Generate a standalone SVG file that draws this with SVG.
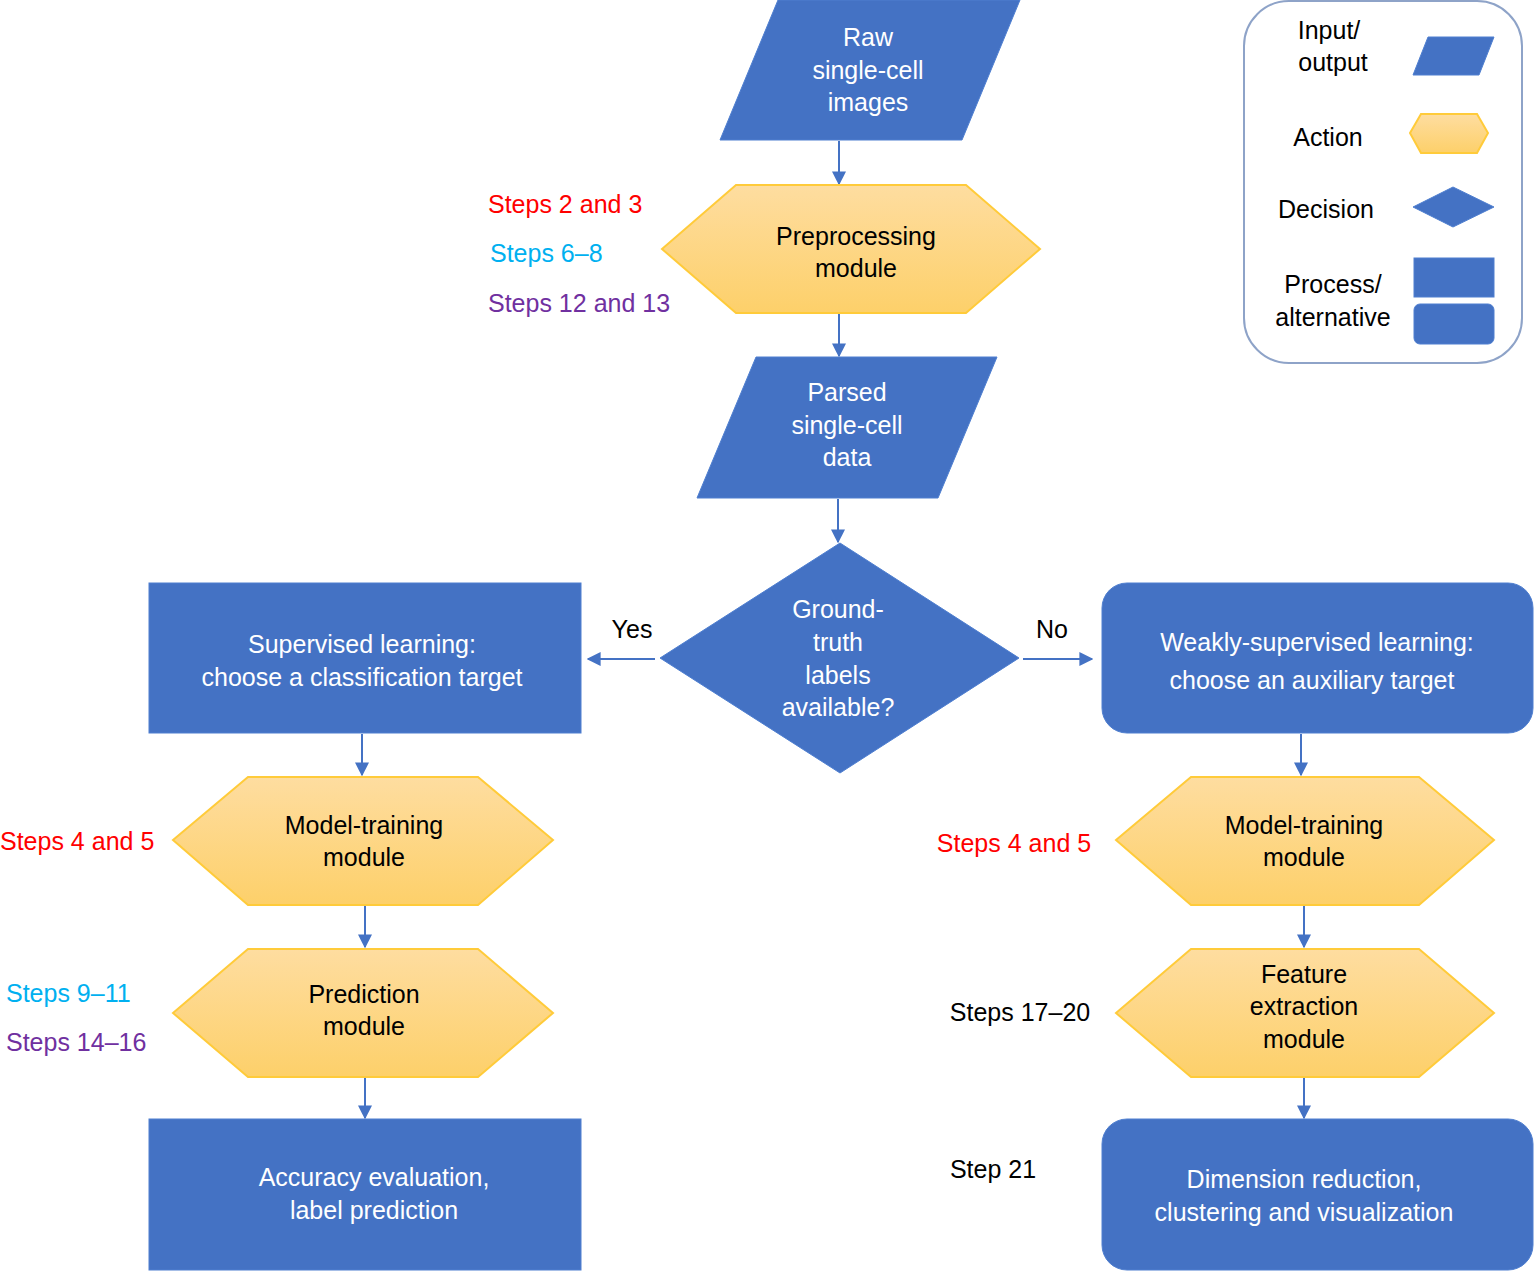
<svg xmlns="http://www.w3.org/2000/svg" width="1535" height="1272" viewBox="0 0 1535 1272">
<style>
text{font-family:"Liberation Sans",Arial,sans-serif;font-size:25px;text-anchor:middle}
.b{fill:#4472C4;stroke:#4F7FD0;stroke-width:1}
.h{fill:url(#g);stroke:#FFCB3A;stroke-width:2}
.w{fill:#fff}
.k{fill:#000}
.l{text-anchor:start}
.r{fill:#FF0000}.c{fill:#00B0F0}.p{fill:#7030A0}
.e{stroke:#4472C4;stroke-width:2;fill:none;marker-end:url(#a)}
</style>
<defs>
<linearGradient id="g" x1="0" y1="0" x2="0" y2="1"><stop offset="0" stop-color="#FEDDA0"/><stop offset="1" stop-color="#FDD06A"/></linearGradient>
<marker id="a" viewBox="0 0 10 10" refX="9" refY="5" markerWidth="7" markerHeight="7" orient="auto"><path d="M0,0L10,5L0,10z" fill="#4472C4"/></marker>
</defs>
<g id="connectors">
<path class="e" d="M839,141V184"/><path class="e" d="M839,314V356"/><path class="e" d="M838,499V542"/>
<path class="e" d="M655,659H588"/><path class="e" d="M1023,659H1092"/>
<path class="e" d="M362,734V775"/><path class="e" d="M1301,734V775"/>
<path class="e" d="M365,906V947"/><path class="e" d="M1304,906V947"/>
<path class="e" d="M365,1078V1118"/><path class="e" d="M1304,1078V1118"/>
</g>
<g id="raw"><polygon class="b" points="778,0 1020,0 962,140 720,140"/><text class="w" x="868" y="46">Raw</text><text class="w" x="868" y="79">single-cell</text><text class="w" x="868" y="111">images</text></g>
<g id="preprocessing"><polygon class="h" points="662,249 736,185 966,185 1040,249 966,313 736,313"/><text class="k" x="856" y="245">Preprocessing</text><text class="k" x="856" y="277">module</text></g>
<g id="steps-pre"><text class="r l" x="488" y="213">Steps 2 and 3</text><text class="c l" x="490" y="262">Steps 6–8</text><text class="p l" x="488" y="312">Steps 12 and 13</text></g>
<g id="parsed"><polygon class="b" points="756,357 997,357 938,498 697,498"/><text class="w" x="847" y="401">Parsed</text><text class="w" x="847" y="434">single-cell</text><text class="w" x="847" y="466">data</text></g>
<g id="decision"><polygon class="b" points="660,658 840,543 1019,658 840,773"/><text class="w" x="838" y="618">Ground-</text><text class="w" x="838" y="651">truth</text><text class="w" x="838" y="684">labels</text><text class="w" x="838" y="716">available?</text></g>
<g id="yesno"><text class="k" x="632" y="638">Yes</text><text class="k" x="1052" y="638">No</text></g>
<g id="supervised"><rect class="b" x="149" y="583" width="432" height="150"/><text class="w" x="362" y="653">Supervised learning:</text><text class="w" x="362" y="686">choose a classification target</text></g>
<g id="weakly"><rect class="b" x="1102" y="583" width="431" height="150" rx="25"/><text class="w" x="1317" y="651">Weakly-supervised learning:</text><text class="w" x="1312" y="689">choose an auxiliary target</text></g>
<g id="mt-left"><polygon class="h" points="173,840 248,777 478,777 553,840 478,905 248,905"/><text class="k" x="364" y="834">Model-training</text><text class="k" x="364" y="866">module</text><text class="r l" x="0" y="850">Steps 4 and 5</text></g>
<g id="prediction"><polygon class="h" points="173,1013 248,949 478,949 553,1013 478,1077 248,1077"/><text class="k" x="364" y="1003">Prediction</text><text class="k" x="364" y="1035">module</text><text class="c l" x="6" y="1002">Steps 9–11</text><text class="p l" x="6" y="1051">Steps 14–16</text></g>
<g id="accuracy"><rect class="b" x="149" y="1119" width="432" height="151"/><text class="w" x="374" y="1186">Accuracy evaluation,</text><text class="w" x="374" y="1219">label prediction</text></g>
<g id="mt-right"><polygon class="h" points="1116,840 1191,777 1419,777 1494,840 1419,905 1191,905"/><text class="k" x="1304" y="834">Model-training</text><text class="k" x="1304" y="866">module</text><text class="r" x="1014" y="852">Steps 4 and 5</text></g>
<g id="feature"><polygon class="h" points="1116,1013 1191,949 1419,949 1494,1013 1419,1077 1191,1077"/><text class="k" x="1304" y="983">Feature</text><text class="k" x="1304" y="1015">extraction</text><text class="k" x="1304" y="1048">module</text><text class="k" x="1020" y="1021">Steps 17–20</text></g>
<g id="dimension"><rect class="b" x="1102" y="1119" width="431" height="151" rx="25"/><text class="w" x="1304" y="1188">Dimension reduction,</text><text class="w" x="1304" y="1221">clustering and visualization</text><text class="k" x="993" y="1178">Step 21</text></g>
<g id="legend"><rect x="1244" y="1" width="278" height="362" rx="45" fill="#fff" stroke="#8EA3C8" stroke-width="2"/>
<text class="k" x="1329" y="39">Input/</text><text class="k" x="1333" y="71">output</text>
<polygon class="b" points="1428,37 1494,37 1479,75 1413,75"/>
<text class="k" x="1328" y="146">Action</text>
<polygon class="h" points="1410,133 1421,114 1477,114 1488,133 1477,153 1421,153" stroke-width="1.5"/>
<text class="k" x="1326" y="218">Decision</text>
<polygon class="b" points="1413,207 1453,187 1494,207 1453,227"/>
<text class="k" x="1333" y="293">Process/</text><text class="k" x="1333" y="326">alternative</text>
<rect class="b" x="1414" y="258" width="80" height="39"/><rect class="b" x="1414" y="304" width="80" height="40" rx="6"/>
</g>
</svg>
